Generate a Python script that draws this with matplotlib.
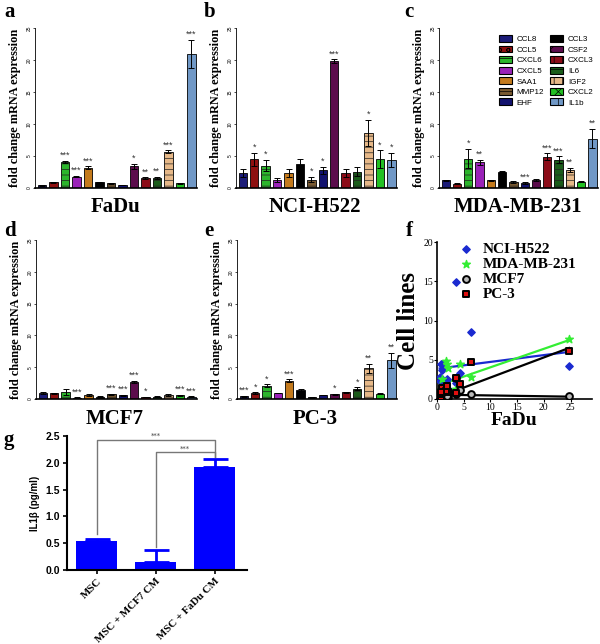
"""
Cytokine fold-change panels (a-e), FaDu correlation (f) and IL1b ELISA (g).
"""

import numpy as np
import matplotlib
matplotlib.use('Agg')
import matplotlib.pyplot as plt

SERIF = ['Liberation Serif', 'DejaVu Serif']
SANS = ['Liberation Sans', 'DejaVu Sans']
plt.rcParams['hatch.linewidth'] = 0.5

# ── Data ──────────────────────────────────────────────────────────────────────
GENES = ['CCL8', 'CCL5', 'CXCL6', 'CXCL5', 'SAA1', 'CCL3', 'MMP12',
         'EHF', 'CSF2', 'CXCL3', 'IL6', 'IGF2', 'CXCL2', 'IL1b']

fadu_val = [0.4, 0.9, 4.05, 1.75, 3.2, 0.9, 0.75, 0.45, 3.4, 1.5, 1.55, 5.7, 0.75, 20.9]
fadu_err = [0.05, 0.1, 0.15, 0.1, 0.2, 0.1, 0.1, 0.05, 0.4, 0.15, 0.15, 0.2, 0.05, 2.2]
fadu_sig = ['', '', '***', '***', '***', '', '', '', '*', '**', '**', '***', '', '***']

nci_val = [2.3, 4.5, 3.5, 1.25, 2.35, 3.7, 1.3, 2.75, 19.8, 2.3, 2.55, 8.6, 4.5, 4.4]
nci_err = [0.6, 1.0, 0.9, 0.3, 0.6, 0.9, 0.4, 0.6, 0.3, 0.6, 0.7, 2.0, 1.4, 1.1]
nci_sig = ['', '*', '*', '', '', '', '*', '*', '***', '', '', '*', '*', '*']

mda_val = [1.2, 0.7, 4.6, 4.0, 1.2, 2.55, 0.95, 0.8, 1.25, 4.9, 4.45, 2.8, 1.0, 7.7]
mda_err = [0.05, 0.05, 1.5, 0.4, 0.1, 0.1, 0.1, 0.1, 0.1, 0.5, 0.5, 0.3, 0.1, 1.5]
mda_sig = ['', '', '*', '**', '', '', '', '***', '', '***', '***', '**', '', '**']

mcf7_val = [0.95, 0.9, 1.15, 0.2, 0.65, 0.35, 0.75, 0.6, 2.65, 0.3, 0.35, 0.65, 0.6, 0.35]
mcf7_err = [0.1, 0.1, 0.5, 0.05, 0.1, 0.05, 0.1, 0.05, 0.2, 0.05, 0.05, 0.2, 0.05, 0.05]
mcf7_sig = ['', '', '', '***', '', '', '***', '***', '***', '*', '', '', '***', '***']

pc3_val = [0.4, 0.95, 2.1, 0.95, 2.9, 1.45, 0.25, 0.65, 0.75, 1.05, 1.65, 4.8, 0.85, 6.1]
pc3_err = [0.05, 0.1, 0.2, 0.05, 0.2, 0.2, 0.05, 0.05, 0.05, 0.05, 0.2, 0.7, 0.05, 1.2]
pc3_sig = ['***', '*', '*', '', '***', '', '', '', '*', '', '*', '**', '', '**']

# panel f: FaDu (x) vs the other cell lines
f_x    = [0.5, 1.0, 4.3, 2.0, 3.6, 1.0, 0.8, 0.5, 3.6, 1.7, 1.8, 6.4, 0.8, 24.7]
f_nci  = [2.3, 4.5, 3.3, 1.25, 2.1, 3.7, 1.3, 2.75, 14.9, 2.3, 2.55, 8.5, 4.5, 4.2]
f_mda  = [1.2, 0.7, 4.5, 4.0, 1.2, 2.55, 0.95, 0.8, 1.25, 4.9, 4.45, 2.8, 1.0, 7.6]
f_mcf7 = [0.95, 0.9, 1.15, 0.2, 0.65, 0.35, 0.75, 0.6, 2.65, 0.3, 0.35, 0.65, 0.6, 0.35]
f_pc3  = [0.4, 0.95, 1.9, 0.95, 2.7, 1.45, 0.25, 0.65, 0.75, 1.05, 1.65, 4.7, 0.85, 6.1]
# fitted line ends (y at min x, y at max x)
fit_nci  = [3.9, 6.0]
fit_mda  = [1.8, 7.5]
fit_mcf7 = [0.55, 0.3]
fit_pc3  = [0.3, 6.5]

# panel g: IL1b ELISA
g_groups = ['MSC', 'MSC + MCF7 CM', 'MSC + FaDu CM']
g_val = [0.54, 0.15, 1.93]
g_err = [0.04, 0.22, 0.15]
# ─────────────────────────────────────────────────────────────────────────────

COLORS = ['#1c1c78', '#8e1010', '#2cb52c', '#9a22b8', '#c47a1c', '#000000',
          '#7a5a30', '#12126e', '#5c0c4c', '#8c0c18', '#1a5c1a', '#e6b888',
          '#22c022', '#7098c6']
HATCHES = [None, None, '---', None, None, None, '---', None, None, None,
           '---', '---', None, None]
LEG_HATCHES = [None, 'oo', '---', None, None, None, '---', None, 'x', '||',
               '---', '||', 'xx', '|']

W, H = 600, 644


def ax_rect(x0, y_top, x1, y_bot):
    return [x0 / W, 1 - y_bot / H, (x1 - x0) / W, (y_bot - y_top) / H]


def bar_panel(fig, rect, vals, errs, sigs, title, title_xy):
    ax = fig.add_axes(rect)
    x = np.arange(len(vals))
    ax.bar(x, vals, width=0.74, color=COLORS, edgecolor='black', linewidth=0.6,
           zorder=2)
    for i, h in enumerate(HATCHES):
        if h:
            ax.bar(x[i], vals[i], width=0.74, color='none', edgecolor='#202020',
                   linewidth=0, hatch=h, zorder=3)
    ax.errorbar(x, vals, yerr=errs, fmt='none', ecolor='black', elinewidth=0.7,
                capsize=2, capthick=0.7, zorder=4)
    for i, s in enumerate(sigs):
        if s:
            ax.text(x[i], vals[i] + errs[i] + 0.15, s, ha='center', va='bottom',
                    fontsize=6.5, color='#333333', family=SANS)
    ax.set_xlim(-0.6, 13.5)
    ax.set_ylim(0, 25)
    ax.set_yticks([0, 5, 10, 15, 20, 25])
    ax.set_yticklabels(['0', '5', '10', '15', '20', '25'], fontsize=3.5,
                       rotation=90, va='center', family=SANS)
    ax.tick_params(axis='y', length=1.5, width=0.5, pad=1)
    ax.set_xticks([])
    for sp in ['top', 'right']:
        ax.spines[sp].set_visible(False)
    ax.spines['left'].set_linewidth(0.6)
    ax.spines['bottom'].set_linewidth(1.2)
    ax.set_ylabel('fold change mRNA expression', fontsize=8.8, fontweight='bold',
                  family=SERIF)
    ax.yaxis.set_label_coords(-0.085, 0.5)
    fig.text(title_xy[0] / W, 1 - title_xy[1] / H, title, fontsize=15,
             fontweight='bold', family=SERIF, ha='center', va='center')
    return ax


def main():
    fig = plt.figure(figsize=(6.0, 6.44), dpi=100)

    bar_panel(fig, ax_rect(35, 28, 197, 188), fadu_val, fadu_err, fadu_sig,
              'FaDu', (115, 207))
    bar_panel(fig, ax_rect(236, 28, 397, 188), nci_val, nci_err, nci_sig,
              'NCI-H522', (315, 207))
    axc = bar_panel(fig, ax_rect(439, 28, 598, 188), mda_val, mda_err, mda_sig,
                    'MDA-MB-231', (518, 207))
    bar_panel(fig, ax_rect(36, 240, 197, 399), mcf7_val, mcf7_err, mcf7_sig,
              'MCF7', (115, 419))
    bar_panel(fig, ax_rect(237, 240, 397, 399), pc3_val, pc3_err, pc3_sig,
              'PC-3', (315, 419))

    # gene legend inside panel c
    handles = [plt.Rectangle((0, 0), 1, 1, facecolor=COLORS[i], edgecolor='black',
                             linewidth=0.8, hatch=LEG_HATCHES[i]) for i in range(14)]
    order = [0, 1, 2, 3, 4, 6, 7, 5, 8, 9, 10, 11, 12, 13]
    axc.legend([handles[i] for i in order], [GENES[i] for i in order], ncol=2,
               loc='upper left', bbox_to_anchor=(0.33, 1.0), frameon=False,
               prop={'family': SANS, 'size': 5.8}, handlelength=1.6,
               handleheight=0.9, labelspacing=0.3, columnspacing=0.8,
               handletextpad=0.6)

    # ── panel f ──
    axf = fig.add_axes(ax_rect(437, 242, 592, 399))
    xs = [min(f_x), max(f_x)]
    axf.plot(xs, fit_nci, color='#1a2ad0', lw=1.6, zorder=2)
    axf.plot(xs, fit_mda, color='#33ee33', lw=1.6, zorder=2)
    axf.plot(xs, fit_mcf7, color='black', lw=1.6, zorder=2)
    axf.plot(xs, fit_pc3, color='black', lw=1.6, zorder=2)
    axf.scatter(f_x, f_nci, marker='D', s=14, color='#1a2ad0', zorder=3,
                label='NCI-H522')
    axf.scatter(f_x, f_mda, marker='*', s=34, color='#33ee33', zorder=3,
                label='MDA-MB-231')
    axf.scatter(f_x, f_mcf7, marker='o', s=24, facecolor='#bbbbbb',
                edgecolor='black', linewidth=1.4, zorder=4, label='MCF7')
    axf.scatter(f_x, f_pc3, marker='s', s=24, facecolor='#e01010',
                edgecolor='black', linewidth=1.4, zorder=5, label='PC-3')
    axf.set_xlim(0, 29)
    axf.set_ylim(0, 20)
    axf.set_xticks([0, 5, 10, 15, 20, 25])
    axf.set_yticks([0, 5, 10, 15, 20])
    axf.tick_params(labelsize=7, length=2, width=0.8, pad=1)
    for lab in axf.get_xticklabels() + axf.get_yticklabels():
        lab.set_family(SERIF)
    for sp in ['top', 'right']:
        axf.spines[sp].set_visible(False)
    axf.spines['left'].set_linewidth(1.2)
    axf.spines['bottom'].set_linewidth(1.2)
    axf.set_xlabel('FaDu', fontsize=14, fontweight='bold', family=SERIF, labelpad=0)
    axf.set_ylabel('Cell lines', fontsize=18, fontweight='bold', family=SERIF,
                   labelpad=2)
    axf.legend(loc='upper left', bbox_to_anchor=(0.05, 1.04), frameon=False,
               prop={'family': SERIF, 'size': 11, 'weight': 'bold'},
               handletextpad=0.1, labelspacing=0.1, borderaxespad=0,
               scatterpoints=1)

    # ── panel g ──
    axg = fig.add_axes(ax_rect(67, 436, 247, 570))
    gx = np.arange(len(g_val))
    axg.bar(gx, g_val, width=0.68, color='#0000ff', zorder=2)
    axg.errorbar(gx, g_val, yerr=[np.zeros(3), g_err], fmt='none', ecolor='#0000ff',
                 elinewidth=2, capsize=9, capthick=2, zorder=3)
    br = '#777777'
    axg.plot([0, 0, 2, 2], [0.67, 2.43, 2.43, 2.1], color=br, lw=1, zorder=1)
    axg.plot([1, 1, 2, 2], [0.43, 2.2, 2.2, 2.1], color=br, lw=1, zorder=1)
    axg.text(1, 2.44, '***', ha='center', va='bottom', fontsize=5, color='#444444')
    axg.text(1.5, 2.21, '***', ha='center', va='bottom', fontsize=5, color='#444444')
    axg.set_xlim(-0.5, 2.55)
    axg.set_ylim(0, 2.5)
    axg.set_yticks([0, 0.5, 1.0, 1.5, 2.0, 2.5])
    axg.set_yticklabels(['0.0', '0.5', '1.0', '1.5', '2.0', '2.5'], fontsize=7.5,
                        fontweight='bold', family=SANS)
    axg.set_xticks(gx)
    axg.set_xticklabels(g_groups, rotation=45, ha='right', rotation_mode='anchor',
                        fontsize=7.8, fontweight='bold', family=SERIF)
    axg.tick_params(axis='both', length=3, width=1.2, pad=2)
    for sp in ['top', 'right']:
        axg.spines[sp].set_visible(False)
    axg.spines['left'].set_linewidth(1.5)
    axg.spines['bottom'].set_linewidth(1.5)
    axg.set_ylabel('IL1\u03b2 (pg/ml)', fontsize=7, fontweight='bold', family=SANS,
                   labelpad=4)

    # panel letters
    for letter, px, py in [('a', 4, 12), ('b', 204, 12), ('c', 404, 12),
                           ('d', 4, 231), ('e', 204, 231), ('f', 406, 231),
                           ('g', 4, 440)]:
        fig.text(px / W, 1 - py / H, letter, fontsize=15, fontweight='bold',
                 family=SERIF, va='center', ha='left')

    fig.savefig('out.png', dpi=100)


if __name__ == '__main__':
    main()
